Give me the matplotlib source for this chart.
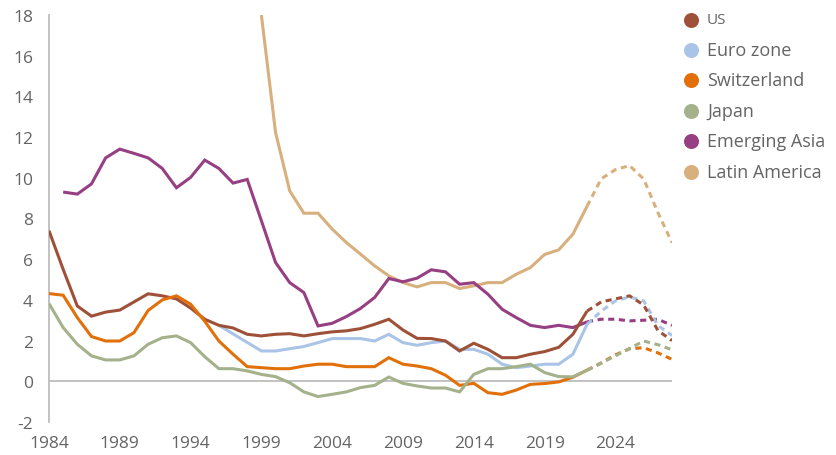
import numpy as np
import matplotlib
matplotlib.use("Agg")
import matplotlib.pyplot as plt
from matplotlib.lines import Line2D

nan = np.nan
years = list(range(1984, 2029))
forecast_start = 2022

us = [7.4, 5.5, 3.7, 3.2, 3.4, 3.5, 3.9, 4.3, 4.2, 4.05,
      3.6, 3.05, 2.75, 2.62, 2.31, 2.23, 2.31, 2.34, 2.23, 2.34,
      2.43, 2.48, 2.59, 2.8, 3.05, 2.52, 2.11, 2.1, 1.98, 1.49,
      1.87, 1.57, 1.16, 1.16, 1.33, 1.46, 1.67, 2.31, 3.45, 3.9,
      4.05, 4.2, 3.75, 2.5, 2.0]
euro = [nan] * 12 + [2.75, 2.33, 1.91, 1.49, 1.49, 1.6, 1.71, 1.9,
      2.1, 2.1, 2.1, 1.98, 2.31, 1.9, 1.77, 1.9, 1.98, 1.57,
      1.57, 1.33, 0.84, 0.67, 0.75, 0.84, 0.84, 1.33, 2.8, 3.45,
      3.95, 4.15, 3.95, 2.75, 2.25]
swiss = [4.31, 4.23, 3.13, 2.2, 1.98, 1.98, 2.39, 3.48, 4.0, 4.2,
         3.79, 2.95, 1.98, 1.33, 0.72, 0.67, 0.62, 0.62, 0.75, 0.84,
         0.84, 0.72, 0.72, 0.72, 1.16, 0.84, 0.75, 0.62, 0.3, -0.2,
         -0.1, -0.56, -0.64, -0.43, -0.15, -0.11, -0.03, 0.2, 0.55, 0.9,
         1.3, 1.6, 1.65, 1.4, 1.08]
japan = [3.82, 2.64, 1.82, 1.25, 1.05, 1.05, 1.25, 1.82, 2.14, 2.23,
         1.9, 1.21, 0.62, 0.62, 0.51, 0.34, 0.23, -0.07, -0.52, -0.75,
         -0.64, -0.52, -0.31, -0.2, 0.21, -0.1, -0.23, -0.33, -0.33, -0.52,
         0.34, 0.62, 0.62, 0.72, 0.84, 0.43, 0.23, 0.22, 0.54, 0.89,
         1.25, 1.61, 1.98, 1.8, 1.55]
em_asia = [nan, 9.3, 9.2, 9.7, 10.98, 11.41, 11.2, 10.98, 10.46, 9.51,
           10.02, 10.87, 10.46, 9.74, 9.92, 7.89, 5.84, 4.85, 4.36, 2.72,
           2.85, 3.18, 3.58, 4.12, 5.05, 4.89, 5.07, 5.48, 5.38, 4.77,
           4.85, 4.28, 3.54, 3.13, 2.75, 2.64, 2.75, 2.64, 2.92, 3.05,
           3.05, 2.97, 3.0, 3.05, 2.75]
lat_am = [nan] * 15 + [18.0, 12.23, 9.36, 8.26, 8.26,
          7.48, 6.82, 6.25, 5.67, 5.18, 4.85, 4.64, 4.85, 4.85, 4.56,
          4.69, 4.85, 4.85, 5.26, 5.59, 6.23, 6.46, 7.23, 8.6, 9.95,
          10.4, 10.6, 9.94, 8.3, 6.81]

names = ["US", "Euro zone", "Switzerland", "Japan", "Emerging Asia", "Latin America"]
series = [us, euro, swiss, japan, em_asia, lat_am]
colors = ["#9E5038", "#A9C4E6", "#E2700A", "#A4B18B", "#963F82", "#D8B07E"]
draw_order = [5, 4, 1, 0, 2, 3]

tick_years = [1984, 1989, 1994, 1999, 2004, 2009, 2014, 2019, 2024]
y_ticks = list(range(-2, 19, 2))

plt.rcParams['font.family'] = ['Open Sans', 'DejaVu Sans']
text_color = "#646464"
axis_color = "#BDBDBD"

W, H = 837, 456
fig = plt.figure(figsize=(W / 100, H / 100), dpi=100)
ax = fig.add_axes([49 / W, 1 - 423 / H, (672 - 49) / W, (423 - 16) / H])

yrs = np.array(years)
for i in draw_order:
    v = np.array(series[i], dtype=float)
    solid = yrs <= forecast_start
    dashed = yrs >= forecast_start
    ax.plot(yrs[solid], v[solid], color=colors[i], lw=2.2,
            solid_capstyle='butt', solid_joinstyle='miter', zorder=3 + draw_order.index(i))
    ax.plot(yrs[dashed], v[dashed], color=colors[i], lw=2.2, dashes=(2.0, 1.5),
            dash_capstyle='butt', zorder=3 + draw_order.index(i))

ax.axhline(0, color=axis_color, lw=1.3, zorder=2)
ax.set_xlim(years[0], years[-1])
ax.set_ylim(-2, 18)
ax.set_xticks(tick_years)
ax.set_xticklabels([str(t) for t in tick_years])
ax.set_yticks(y_ticks)
ax.set_yticklabels([str(t) for t in y_ticks])
ax.tick_params(axis='both', length=0, labelsize=12.5, colors=text_color)
ax.tick_params(axis='y', pad=11.5)
ax.tick_params(axis='x', pad=9)
for s in ['top', 'right', 'bottom']:
    ax.spines[s].set_visible(False)
ax.spines['left'].set_color(axis_color)
ax.spines['left'].set_linewidth(1.3)
ax.set_facecolor('white')

row_y = [20.7, 51, 81, 111.7, 141.7, 172.7]
for name, col, yy in zip(names, colors, row_y):
    fig.add_artist(Line2D([691.5 / W], [1 - yy / H], marker='o', markersize=10.8,
                          color=col, markeredgewidth=0, linestyle='none',
                          transform=fig.transFigure))
    fs = 11 if name == "US" else 13
    fig.text(707 / W, 1 - yy / H, name, fontsize=fs, color=text_color,
             va='center', ha='left')

fig.savefig("out.png", dpi=100, facecolor='white')
